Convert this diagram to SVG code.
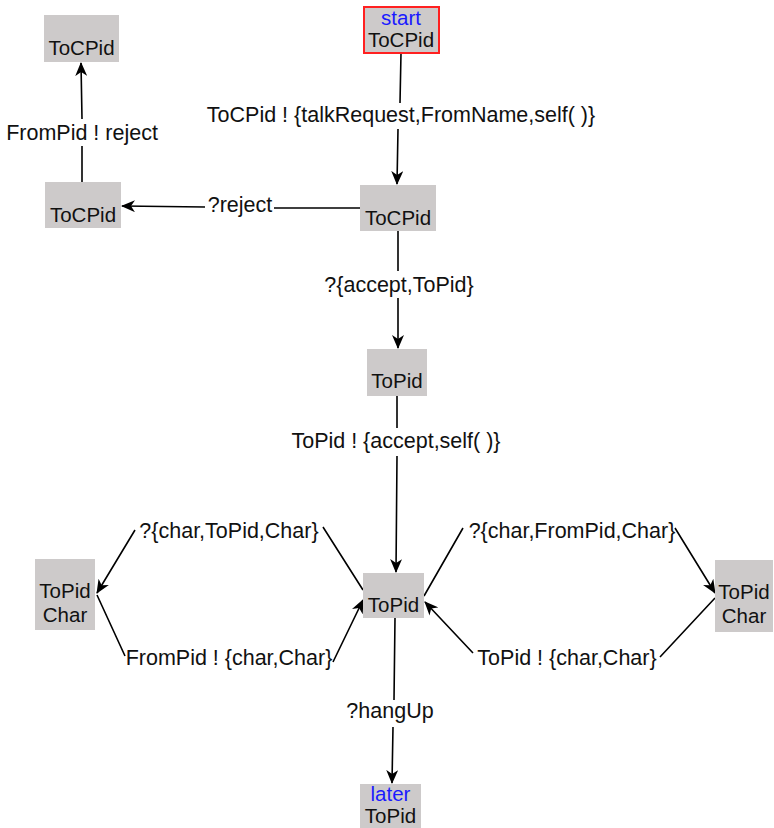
<svg xmlns="http://www.w3.org/2000/svg" width="774" height="828" viewBox="0 0 774 828">
<style>
.n{fill:#cdcaca;stroke:none}
.s{fill:#cdcaca;stroke:#ff2020;stroke-width:2}
.t{font-family:"Liberation Sans",Arial,sans-serif;font-size:21.5px;fill:#111;text-anchor:middle}
.k{font-size:20.5px}
.b{fill:#1a1aff}
.e{fill:none;stroke:#000;stroke-width:1.6}
</style>
<defs>
<marker id="a" viewBox="0 0 14 12" refX="13" refY="6" markerWidth="14" markerHeight="12" markerUnits="userSpaceOnUse" orient="auto">
<path d="M0,0 L14,6 L0,12 L4,6 z" fill="#000"/>
</marker>
</defs>
<rect width="774" height="828" fill="#fff"/>
<g id="connectors">
<path class="e" d="M401,53 L400,103 M398,129 L397,184" marker-end="url(#a)"/>
<path class="e" d="M360,208 L274,208 M205,207 L122,206" marker-end="url(#a)"/>
<path class="e" d="M82,182 L82,146 M82,119 L81,63" marker-end="url(#a)"/>
<path class="e" d="M398,231 L398,271 M398,298 L398,348" marker-end="url(#a)"/>
<path class="e" d="M397,396 L397,428 M397,456 L396,572" marker-end="url(#a)"/>
<path class="e" d="M363,590 L323,527 M135,530 L97,593" marker-end="url(#a)"/>
<path class="e" d="M97,595 L125,656 M333,662 L363,600" marker-end="url(#a)"/>
<path class="e" d="M424,596 L463,528 M675,528 L715,593" marker-end="url(#a)"/>
<path class="e" d="M715,598 L660,657 M473,653 L425,602" marker-end="url(#a)"/>
<path class="e" d="M395,618 L394,700 M393,727 L392,783" marker-end="url(#a)"/>
</g>
<g id="labels">
<text class="t" x="401" y="122">ToCPid ! {talkRequest,FromName,self( )}</text>
<text class="t" x="240" y="212">?reject</text>
<text class="t" x="82" y="140">FromPid ! reject</text>
<text class="t" x="399" y="292">?{accept,ToPid}</text>
<text class="t" x="396" y="448">ToPid ! {accept,self( )}</text>
<text class="t" x="229" y="538">?{char,ToPid,Char}</text>
<text class="t" x="229" y="665">FromPid ! {char,Char}</text>
<text class="t" x="572" y="538">?{char,FromPid,Char}</text>
<text class="t" x="567" y="665">ToPid ! {char,Char}</text>
<text class="t" x="390" y="718">?hangUp</text>
</g>
<g id="start">
<rect class="s" x="364" y="7" width="75" height="46"/>
<text class="t k b" x="401" y="25">start</text>
<text class="t k" x="401" y="47">ToCPid</text>
</g>
<g id="tocpid_top">
<rect class="n" x="44" y="15" width="75" height="47"/>
<text class="t k" x="81.5" y="55">ToCPid</text>
</g>
<g id="tocpid_left">
<rect class="n" x="45" y="182" width="76" height="46"/>
<text class="t k" x="83" y="222">ToCPid</text>
</g>
<g id="tocpid_mid">
<rect class="n" x="360" y="185" width="76" height="46"/>
<text class="t k" x="398" y="225">ToCPid</text>
</g>
<g id="topid_mid">
<rect class="n" x="367" y="349" width="60" height="47"/>
<text class="t k" x="397" y="388">ToPid</text>
</g>
<g id="topid_low">
<rect class="n" x="363" y="573" width="61" height="45"/>
<text class="t k" x="393.5" y="612">ToPid</text>
</g>
<g id="char_left">
<rect class="n" x="35" y="559" width="60" height="71"/>
<text class="t k" x="65" y="598">ToPid</text>
<text class="t k" x="65" y="622">Char</text>
</g>
<g id="char_right">
<rect class="n" x="715" y="560" width="58" height="72"/>
<text class="t k" x="744" y="599">ToPid</text>
<text class="t k" x="744" y="623">Char</text>
</g>
<g id="later">
<rect class="n" x="360" y="784" width="61" height="44"/>
<text class="t k b" x="390.5" y="801">later</text>
<text class="t k" x="390.5" y="823">ToPid</text>
</g>
</svg>
